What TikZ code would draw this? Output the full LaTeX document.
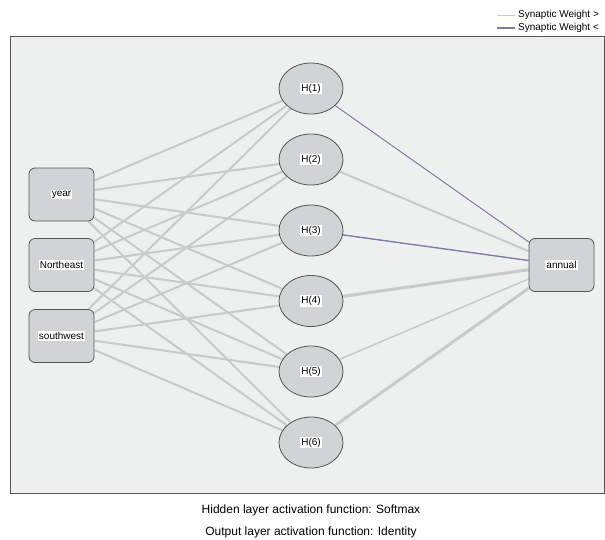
\documentclass[tikz,border=0pt]{standalone}
\usepackage{fontspec}
\setmainfont{Liberation Sans}
\usepackage{xcolor}
\usetikzlibrary{shapes.geometric, positioning, backgrounds}

\definecolor{panel}{HTML}{EEF0F0}
\definecolor{nodegray}{HTML}{D2D3D5}
\definecolor{rimgray}{HTML}{555555}
\definecolor{wplus}{HTML}{C9CACA}
\definecolor{wminus}{HTML}{7A7EA8}

\newcommand{\lbl}[1]{{\setlength\fboxsep{1pt}\colorbox{white}{#1}}}

\begin{document}
\begin{tikzpicture}[
    x=1pt, y=-1pt,
    box/.style={rectangle, rounded corners=6pt, draw=rimgray, fill=nodegray, thick, minimum width=65pt, minimum height=53pt, inner sep=0pt, font=\fontsize{10}{12}\selectfont},
    hid/.style={ellipse, draw=rimgray, fill=nodegray, thick, minimum width=64pt, minimum height=51pt, inner sep=0pt, font=\fontsize{10}{12}\selectfont},
    wpos/.style={draw=wplus, line width=2pt},
    wneg/.style={draw=wminus, line width=1pt},
    note/.style={font=\fontsize{12}{14}\selectfont, inner sep=0pt}
]
    \useasboundingbox (0,0) rectangle (605,539);

    % input layer
    \node[box] (year) at (61.5,194.5) {\lbl{year}};
    \node[box] (ne) at (61.5,265) {\lbl{Northeast}};
    \node[box] (sw) at (61.5,336) {\lbl{southwest}};

    % hidden layer
    \node[hid] (h1) at (311,88.5) {\lbl{H(1)}};
    \node[hid] (h2) at (311,159.5) {\lbl{H(2)}};
    \node[hid] (h3) at (311,230.5) {\lbl{H(3)}};
    \node[hid] (h4) at (311,301) {\lbl{H(4)}};
    \node[hid] (h5) at (311,371.5) {\lbl{H(5)}};
    \node[hid] (h6) at (311,442.5) {\lbl{H(6)}};

    % output layer
    \node[box] (annual) at (561.5,265) {\lbl{annual}};

    \begin{scope}[on background layer]
        \draw[draw=rimgray, fill=panel] (10,36) rectangle (604,493);
        \foreach \i in {year, ne, sw}
            \foreach \j in {h1, h2, h3, h4, h5, h6}
                \draw[wpos] (\i) -- (\j);
        \draw[wneg] (h1) -- (annual);
        \draw[wpos] (h2) -- (annual);
        \draw[wneg, line width=1.4pt] (h3) -- (annual);
        \draw[wpos, line width=3pt] (h4) -- (annual);
        \draw[wpos, line width=1.5pt] (h5) -- (annual);
        \draw[wpos, line width=3pt] (h6) -- (annual);
    \end{scope}

    % legend
    \coordinate (lp) at (497,15);
    \coordinate (lm) at (497,28);
    \node[anchor=west, inner sep=0pt, font=\fontsize{10}{12}\selectfont] (tp) at (518,15) {Synaptic Weight >};
    \node[anchor=west, inner sep=0pt, font=\fontsize{10}{12}\selectfont] (tm) at (518,28) {Synaptic Weight <};
    \draw[wplus, line width=1pt] (lp) -- ([xshift=-3pt]tp.west);
    \draw[wminus, line width=1.5pt] (lm) -- ([xshift=-3pt]tm.west);

    % activation notes
    \node[note] (hnote) at (311,510) {Hidden layer activation function: Softmax};
    \node[note] (onote) at (311,532) {Output layer activation function: Identity};
\end{tikzpicture}
\end{document}
